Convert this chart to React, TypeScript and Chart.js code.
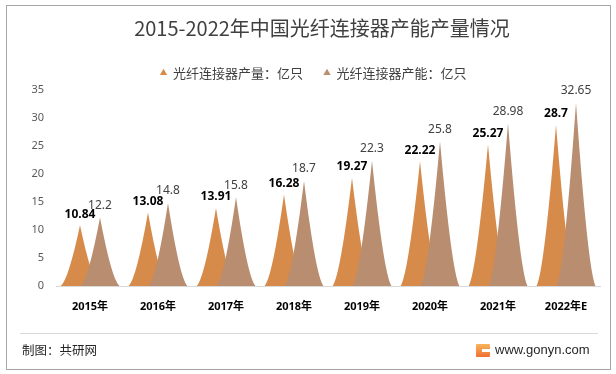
import React, { useEffect, useRef } from "react";
import { Chart, registerables } from "chart.js";

Chart.register(...registerables);

// ---- data ----
const categories = ["2015年", "2016年", "2017年", "2018年", "2019年", "2020年", "2021年", "2022年E"];
const outputValues = [10.84, 13.08, 13.91, 16.28, 19.27, 22.22, 25.27, 28.7];
const capacityValues = [12.2, 14.8, 15.8, 18.7, 22.3, 25.8, 28.98, 32.65];
const seriesNames = ["光纤连接器产量：亿只", "光纤连接器产能：亿只"];
const yMin = 0;
const yMax = 35;
const yStep = 5;
const titleText = "2015-2022年中国光纤连接器产能产量情况";
const footerLeft = "制图：共研网";
const footerRight = "www.gonyn.com";

const ORANGE = "#D68B4B";
const BROWN = "#B98D70";
const CJK = '"Noto Sans CJK SC", "Noto Sans", sans-serif';
const NUM = '"Noto Sans", "Noto Sans CJK SC", sans-serif';

const peakPlugin = {
  id: "peakShapes",
  afterLayout(chart: any) {
    const tb = chart.titleBlock;
    if (tb) {
      const w = tb.right - tb.left;
      tb.left = 322 - w / 2;
      tb.right = 322 + w / 2;
    }
    const lg = chart.legend;
    if (lg) {
      const w = lg.right - lg.left;
      lg.left = 313.5 - w / 2;
      lg.right = 313.5 + w / 2;
    }
  },
  beforeDatasetDraw() {
    return false;
  },
  afterDatasetsDraw(chart: any) {
    const ctx = chart.ctx;
    ctx.save();
    chart.data.datasets.forEach((ds: any, di: number) => {
      const meta = chart.getDatasetMeta(di);
      if (meta.hidden) return;
      meta.data.forEach((el: any) => {
        const { x, y, base, width } = el.getProps(["x", "y", "base", "width"], true);
        const hb = width * 0.97;
        const h = base - y;
        ctx.beginPath();
        ctx.moveTo(x - hb, base);
        ctx.quadraticCurveTo(x - 0.6 * hb, base - 0.1 * h, x, y);
        ctx.quadraticCurveTo(x + 0.6 * hb, base - 0.1 * h, x + hb, base);
        ctx.closePath();
        ctx.fillStyle = ds.backgroundColor;
        ctx.fill();
      });
    });
    // value labels
    ctx.textAlign = "center";
    ctx.textBaseline = "middle";
    chart.data.datasets.forEach((ds: any, di: number) => {
      const meta = chart.getDatasetMeta(di);
      if (meta.hidden) return;
      meta.data.forEach((el: any, i: number) => {
        const { x, y } = el.getProps(["x", "y"], true);
        if (di === 0) {
          ctx.font = `bold 12px ${NUM}`;
          ctx.fillStyle = "#000000";
          ctx.fillText(String(ds.data[i]), x, y - 11);
        } else {
          ctx.font = `12px ${NUM}`;
          ctx.fillStyle = "#404040";
          ctx.fillText(String(ds.data[i]), x, y - 12);
        }
      });
    });
    ctx.restore();
  },
};

export default function App() {
  const canvasRef = useRef<HTMLCanvasElement | null>(null);

  useEffect(() => {
    const canvas = canvasRef.current;
    if (!canvas) return;
    const chart = new Chart(canvas, {
      type: "bar",
      data: {
        labels: categories,
        datasets: [
          {
            label: seriesNames[0],
            data: outputValues,
            backgroundColor: ORANGE,
            borderWidth: 0,
          },
          {
            label: seriesNames[1],
            data: capacityValues,
            backgroundColor: BROWN,
            borderWidth: 0,
          },
        ],
      },
      options: {
        responsive: false,
        animation: false,
        devicePixelRatio: 1,
        layout: { padding: { left: 0, right: 16, top: 0, bottom: 0 } },
        datasets: {
          bar: { categoryPercentage: 40 / 68, barPercentage: 1 },
        },
        plugins: {
          tooltip: { enabled: false },
          title: {
            display: true,
            text: titleText,
            color: "#404040",
            font: { family: CJK, size: 20, weight: "normal" },
            padding: { top: 16, bottom: 5.5 },
          },
          legend: {
            display: true,
            position: "top",
            labels: {
              usePointStyle: true,
              pointStyle: "triangle",
              boxWidth: 6,
              boxHeight: 6,
              padding: 21,
              color: "#404040",
              font: { family: CJK, size: 13 },
            },
          },
        },
        scales: {
          x: {
            grid: { display: false, drawTicks: false },
            border: { display: true, color: "#D9D9D9", width: 1 },
            ticks: {
              color: "#000000",
              font: { family: NUM, size: 11, weight: "bold" },
              padding: 14,
              maxRotation: 0,
              autoSkip: false,
            },
            afterFit: (s: any) => {
              s.height = 44;
            },
          },
          y: {
            min: yMin,
            max: yMax,
            grid: { display: false, drawTicks: false },
            border: { display: false },
            ticks: {
              stepSize: yStep,
              color: "#595959",
              font: { family: NUM, size: 11 },
              padding: 12,
            },
            afterFit: (s: any) => {
              s.width = 56;
            },
          },
        },
      },
      plugins: [peakPlugin],
    } as any);
    return () => chart.destroy();
  }, []);

  return (
    <div
      style={{
        position: "fixed",
        left: 0,
        top: 0,
        width: 616,
        height: 374,
        background: "#ffffff",
        overflow: "hidden",
        fontFamily: CJK,
      }}
    >
      <canvas
        ref={canvasRef}
        width={616}
        height={330}
        style={{ position: "absolute", left: 0, top: 0, width: 616, height: 330 }}
      />
      <div
        style={{
          position: "absolute",
          left: 6,
          top: 5,
          width: 605,
          height: 365,
          border: "1px solid #A6A6A6",
          boxSizing: "border-box",
          pointerEvents: "none",
        }}
      />
      <div
        style={{
          position: "absolute",
          left: 20,
          top: 333,
          width: 578,
          height: 1,
          background: "#D9D9D9",
        }}
      />
      <div
        style={{
          position: "absolute",
          left: 22,
          top: 341,
          height: 18,
          lineHeight: "18px",
          fontSize: 12.5,
          color: "#262626",
          fontFamily: CJK,
          whiteSpace: "nowrap",
        }}
      >
        {footerLeft}
      </div>
      <div
        style={{
          position: "absolute",
          left: 476,
          top: 344,
          width: 14,
          height: 13,
          background: "linear-gradient(180deg, #F9B65C 0%, #EE6F32 100%)",
          borderRadius: 1,
        }}
      >
        <div
          style={{
            position: "absolute",
            left: 6,
            top: 5,
            width: 8,
            height: 3,
            background: "#ffffff",
          }}
        />
      </div>
      <div
        style={{
          position: "absolute",
          left: 495,
          top: 341,
          height: 18,
          lineHeight: "18px",
          fontSize: 13,
          color: "#262626",
          fontFamily: '"Liberation Sans", Arial, sans-serif',
          whiteSpace: "nowrap",
        }}
      >
        {footerRight}
      </div>
    </div>
  );
}
